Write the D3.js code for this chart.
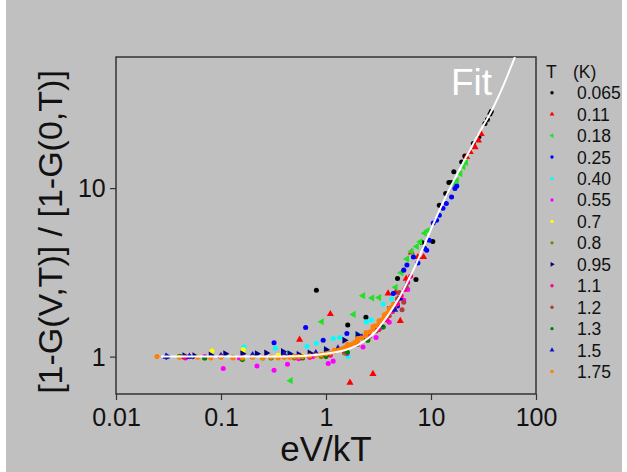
<!DOCTYPE html>
<html><head><meta charset="utf-8">
<script src="https://cdn.jsdelivr.net/npm/d3@7/dist/d3.min.js"></script>
<style>body{margin:0;background:#fff}svg{display:block}</style></head>
<body><svg id="c" width="627" height="472"></svg>
<script>
// ---- data ----
const xMajor = [0.01, 0.1, 1, 10, 100];
const xTickLabels = ["0.01", "0.1", "1", "10", "100"];
const yMajor = [1, 10];
const yTickLabels = ["1", "10"];
const temps = ["0.065","0.11","0.18","0.25","0.40","0.55","0.7","0.8","0.95","1.1","1.2","1.3","1.5","1.75"];
const colors = ["#000000","#ff0000","#22e022","#0000ff","#00ffff","#ff00ff","#ffff00","#808000","#000080","#ff0080","#b03c3c","#008000","#1010c8","#ff8000"];
const shapes = ["circle","triUp","triLeft","circle","circle","circle","circle","circle","triRight","circle","circle","circle","triUp","circle"];

const d065 = [[0.81,2.48],[1.61,1.54],[2.4,1.71],[4.8,2.91],[7.2,2.87],[8.2,4.75],[10.4,4.82],[12,7.9],[13.8,9.3],[14.8,10.8],[15.6,10.8],[16.5,12.5],[19.6,14.3],[21,15.5],[25.3,18.4],[28.6,20.2],[32.7,24.2],[34.5,25.5],[36.5,27.5],[37.5,28.5]];
const d011 = [[0.56,1.26],[1.1,1.79],[1.69,0.70],[2.8,0.79],[3.9,2.37],[4.6,2.4],[5.1,1.63],[5.8,2.9],[6.5,4.15],[7.5,3.9],[8.5,3.9],[21.8,15.3],[23.6,16.4],[26.3,17.5],[28.3,19.2],[30,21]];
const d018 = [[0.46,0.72],[0.91,1.61],[1.83,1.78],[2.25,2.3],[2.75,2.23],[3.2,2.24],[4.6,2.58],[5.2,3.15],[5.9,3.8],[6.5,4.2],[7.3,4.5],[7.9,4.8],[8.7,5.4],[9.3,5.6],[16.5,10.5],[17.6,11.1],[19,12.2],[20.3,13.4],[21.5,14.2]];
const d025 = [[0.32,1.21],[0.64,1.49],[0.94,1.25],[1.58,1.37],[2.5,1.35],[3.6,1.7],[4.37,2.37],[4.8,2.0],[5.5,3.26],[5.9,3.5],[6.8,3.9],[7.5,3.6],[8.7,4.4],[9.1,4.28],[9.6,4.9],[10.5,6.2],[11.3,6.45],[12,6.9],[13,7.6],[14,8.1],[15.7,8.85],[16.9,9.95],[17.6,10.3]];
const d040 = [[0.08,1.0],[0.166,1.14],[0.2,1.02],[0.33,1.12],[0.45,1.04],[0.66,1.15],[0.81,1.2],[1.0,1.1],[1.17,1.28],[1.35,1.3],[1.62,1.0],[2.0,1.35],[2.42,1.61],[2.7,1.65],[3.5,2.05],[4.2,2.2],[5.9,2.7]];
const d055 = [[0.046,0.98],[0.07,1.0],[0.105,0.85],[0.15,0.98],[0.22,0.88],[0.32,0.83],[0.43,0.9],[0.55,0.97],[0.75,1.0],[1.05,0.91],[1.17,0.94],[1.58,1.04],[2.25,1.14],[3.0,1.3],[4.0,1.6],[5.5,2.16],[6.0,2.5]];
const d07 = [[0.082,1.08],[0.163,1.10],[0.35,1.02],[0.6,1.01],[1.0,1.05],[2.0,1.2]];
const d08 = [[0.07,0.98],[0.13,0.99],[0.25,0.98],[0.5,0.98],[0.9,1.0],[1.5,1.05],[2.5,1.25],[3.5,1.5]];
const d095 = [[0.031,1.0],[0.045,1.01],[0.056,1.01],[0.08,1.02],[0.11,1.04],[0.16,1.04],[0.22,1.04],[0.27,1.05],[0.39,1.07],[0.45,1.04],[0.55,1.03],[0.7,1.05],[1.0,1.1],[1.5,1.25],[2.0,1.35],[3.0,1.5],[4.0,1.9],[5.0,2.2]];
const d11 = [[0.045,0.99],[0.1,1.0],[0.2,1.0],[0.4,1.0],[0.7,0.99],[1.1,1.02],[1.5,1.08],[2.0,1.2],[2.6,1.32],[3.2,1.45],[3.8,1.65],[4.3,1.85],[4.8,2.05],[5.2,2.3],[5.6,2.5],[6.0,2.75],[6.4,3.0]];
const d12 = [[0.05,1.0],[0.2,1.0],[0.5,1.0],[1.0,1.02],[2.0,1.18],[3.0,1.42],[4.0,1.75],[4.5,1.95],[4.8,2.2],[5.0,2.4],[5.3,1.9],[5.5,2.1],[5.8,2.6]];
const d13 = [[0.04,1.0],[0.041,1.0],[0.07,0.98],[0.16,0.96],[0.3,0.98],[0.6,0.98],[1.0,1.0],[1.6,1.06],[2.5,1.25],[3.5,1.5]];
const d15 = [[0.03,1.0],[0.05,1.0],[0.1,1.01],[0.2,1.02],[0.4,1.03],[0.8,1.05],[1.3,1.12],[2.2,1.3],[3.3,1.55],[4.5,1.9]];
const d175 = [[0.0246,1.0],[0.04,0.99],[0.06,0.99],[0.08,0.98],[0.1,0.99],[0.13,0.98],[0.16,0.98],[0.2,0.99],[0.25,0.98],[0.3,0.99],[0.35,0.98],[0.4,0.99],[0.45,0.99],[0.5,1.0],[0.55,1.0],[0.6,1.0],[0.7,1.01],[0.8,1.02],[0.9,1.03],[1.0,1.04],[1.1,1.05],[1.2,1.07],[1.3,1.09],[1.4,1.11],[1.5,1.13],[1.6,1.15],[1.7,1.17],[1.8,1.19],[1.9,1.22],[2.0,1.24],[2.2,1.29],[2.4,1.34],[2.6,1.4],[2.8,1.46],[3.0,1.52],[3.2,1.58],[3.4,1.65],[3.6,1.72],[3.8,1.8],[4.0,1.88],[4.2,1.96],[4.4,2.05],
  [1.2,1.09],[1.6,1.18],[2.0,1.28],[2.4,1.39],[2.8,1.51],[3.2,1.63],[3.6,1.77],[4.0,1.93]];
const series = [d065,d011,d018,d025,d040,d055,d07,d08,d095,d11,d12,d13,d15,d175];

const fitX = [0.027,0.1,0.3,0.6,1.0,1.5,2.0,2.5,3.0,3.5,4.0,5.0,6.0,7.0,8.5,10,13,17,22,30,38,44,63];
const fitY = [1.0,1.0,1.0,1.01,1.04,1.09,1.17,1.28,1.42,1.6,1.8,2.25,2.8,3.4,4.5,5.7,8.2,11.5,15.6,22.3,29,35,60];

// ---- drawing ----
const svg = d3.select("#c");
const W = 627, H = 472;
svg.append("rect").attr("width", W).attr("height", H).attr("fill", "#ffffff");
svg.append("rect").attr("x", 6).attr("y", 0).attr("width", 616).attr("height", H).attr("fill", "#c0c0c0");

const x = d3.scaleLog().domain([0.01, 100]).range([116, 536]);
const y = d3.scaleLog().domain([0.6, 60]).range([394, 57]);
const font = "'Liberation Sans', Arial, sans-serif";

function minorsBetween(lo, hi) {
  const out = [];
  for (let e = -3; e <= 3; e++) for (let m = 1; m <= 9; m++) {
    const v = m * Math.pow(10, e);
    if (v >= lo * 0.9999 && v <= hi * 1.0001 && m !== 1) out.push(v);
  }
  return out;
}

// frame
svg.append("rect").attr("x", x.range()[0]).attr("y", y.range()[1])
  .attr("width", x.range()[1] - x.range()[0]).attr("height", y.range()[0] - y.range()[1])
  .attr("fill", "none").attr("stroke", "#333").attr("stroke-width", 1.5);

// x axis
const gx = svg.append("g").attr("transform", `translate(0,${y.range()[0]})`);
gx.call(d3.axisBottom(x).tickValues(minorsBetween(0.01, 100)).tickSize(3).tickFormat(""));
gx.call(d3.axisBottom(x).tickValues(xMajor).tickSize(6).tickFormat((d, i) => xTickLabels[i]));
gx.select(".domain").remove();
gx.selectAll("line").attr("stroke", "#333").attr("stroke-width", 1.2);
gx.selectAll("text").attr("font-family", font).attr("font-size", 25).attr("fill", "#111").attr("dy", "0.9em");

// y axis
const gy = svg.append("g").attr("transform", `translate(${x.range()[0]},0)`);
gy.call(d3.axisLeft(y).tickValues(minorsBetween(0.6, 60)).tickSize(3).tickFormat(""));
gy.call(d3.axisLeft(y).tickValues(yMajor).tickSize(6).tickFormat((d, i) => yTickLabels[i]));
gy.select(".domain").remove();
gy.selectAll("line").attr("stroke", "#333").attr("stroke-width", 1.2);
gy.selectAll("text").attr("font-family", font).attr("font-size", 25).attr("fill", "#111").attr("dx", "-0.05em").attr("dy", "0.35em");

// titles
svg.append("text").attr("x", 326).attr("y", 461).attr("text-anchor", "middle")
  .attr("font-family", font).attr("font-size", 35).attr("fill", "#111").text("eV/kT");
svg.append("text").attr("transform", "translate(62,232) rotate(-90)").attr("text-anchor", "middle")
  .attr("font-family", font).attr("font-size", 34).attr("fill", "#111").text("[1-G(V,T)] / [1-G(0,T)]");

// markers
function symPath(shape, size) {
  if (shape === "circle") return d3.symbol().type(d3.symbolCircle).size(size)();
  return d3.symbol().type(d3.symbolTriangle).size(size * 1.1)();
}
function symRot(shape) {
  return shape === "triLeft" ? -90 : shape === "triRight" ? 90 : 0;
}
svg.append("clipPath").attr("id", "pc").append("rect")
  .attr("x", 116).attr("y", 57).attr("width", 420).attr("height", 337);
const pts = svg.append("g").attr("clip-path", "url(#pc)");
series.forEach((s, i) => {
  pts.append("g").selectAll("path").data(s).join("path")
    .attr("d", symPath(shapes[i], 20))
    .attr("transform", d => `translate(${x(d[0])},${y(d[1])}) rotate(${symRot(shapes[i])})`)
    .attr("fill", colors[i]);
});

// fit line
const fitData = fitX.map((v, i) => [v, fitY[i]]);
svg.append("path").datum(fitData)
  .attr("clip-path", "url(#pc)")
  .attr("d", d3.line().x(d => x(d[0])).y(d => y(d[1])).curve(d3.curveMonotoneX))
  .attr("fill", "none").attr("stroke", "#ffffff").attr("stroke-width", 2);
svg.append("text").attr("x", 451).attr("y", 95).attr("font-family", font).attr("font-size", 37)
  .attr("fill", "#ffffff").text("Fit");

// legend
const lg = svg.append("g");
lg.append("text").attr("x", 546).attr("y", 78).attr("font-family", font).attr("font-size", 17.5).attr("fill", "#111").text("T");
lg.append("text").attr("x", 573).attr("y", 78).attr("font-family", font).attr("font-size", 17.5).attr("fill", "#111").text("(K)");
temps.forEach((t, i) => {
  const cy = 92.7 + i * 21.45;
  lg.append("path").attr("d", symPath(shapes[i], 9))
    .attr("transform", `translate(552,${cy}) rotate(${symRot(shapes[i])})`).attr("fill", colors[i]);
  lg.append("text").attr("x", 577).attr("y", cy + 6.5).attr("font-family", font).attr("font-size", 17.5)
    .attr("fill", "#111").text(t);
});
</script></body></html>
